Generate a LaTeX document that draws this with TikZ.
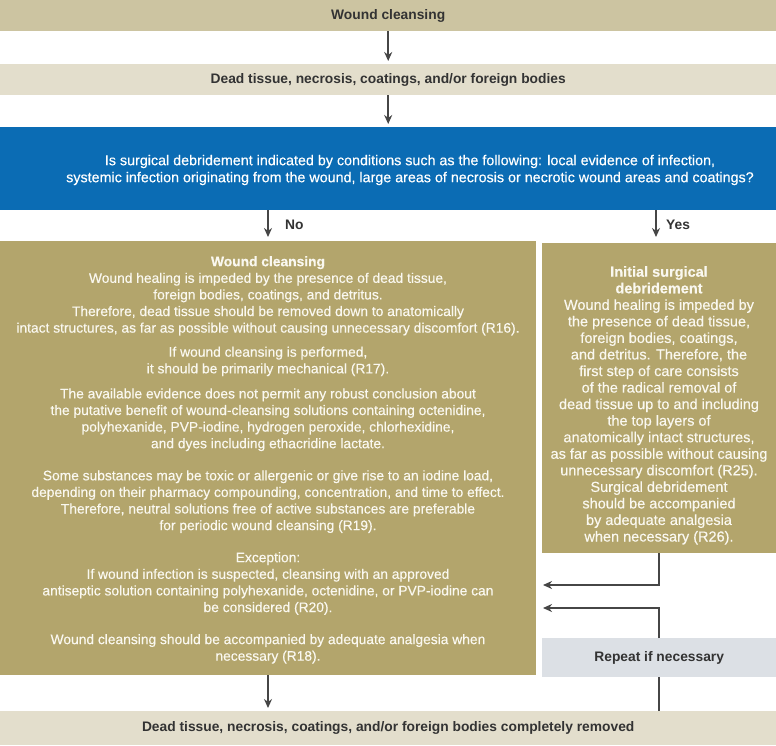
\documentclass[tikz,border=0pt]{standalone}
\usepackage{fontspec}
\setmainfont{Liberation Sans}
\newfontfamily\bodyfont{Liberation Sans}[FakeBold=0.35]
\usetikzlibrary{arrows.meta}
\definecolor{tanD}{HTML}{CCC4A1}
\definecolor{tanL}{HTML}{E3DECC}
\definecolor{blueQ}{HTML}{0B6CB4}
\definecolor{oliveB}{HTML}{B3A56C}
\definecolor{grayR}{HTML}{DCE0E5}
\definecolor{arrowc}{HTML}{464646}
\definecolor{darktxt}{HTML}{333333}
\definecolor{lighttxt}{HTML}{FAF8F0}
\begin{document}
\begin{tikzpicture}[x=1pt,y=-1pt,
  panel/.style={rectangle, inner sep=0pt, anchor=north west, align=center},
  bartext/.style={font=\fontsize{13.8}{16.6}\selectfont\bfseries, text=darktxt},
  bodytext/.style={font=\bodyfont\fontsize{13.8}{16.6}\selectfont, text=lighttxt},
  arr/.style={draw=arrowc, line width=2pt, -{Stealth[length=9pt,width=8pt]}},
  plain/.style={draw=arrowc, line width=2pt},
  lbl/.style={font=\fontsize{13.8}{16}\selectfont\bfseries, text=darktxt, anchor=west, inner sep=0pt}]
\useasboundingbox (0,0) rectangle (776,745);
\fill[white] (0,0) rectangle (776,745);

\node[panel, bartext, fill=tanD, minimum width=776pt, minimum height=31pt] (t1) at (0,0) {Wound cleansing};
\node[panel, bartext, fill=tanL, minimum width=776pt, minimum height=31pt] (t2) at (0,64) {Dead tissue, necrosis, coatings, and/or foreign bodies};
\node[panel, fill=blueQ, minimum width=776pt, minimum height=83pt] (q) at (0,127) {};
\node[bodytext, font=\bodyfont\fontsize{14.3}{17}\selectfont, text=white, align=center, inner sep=0pt] (qt) at (410,170) {Is surgical debridement indicated by conditions such as the following: local evidence of infection,\\
systemic infection originating from the wound, large areas of necrosis or necrotic wound areas and coatings?};

\node[panel, fill=oliveB, minimum width=536pt, minimum height=434pt] (L) at (0,241) {};
\node[bodytext, align=center, inner sep=0pt, anchor=north] (Lt) at (268,256) {\textbf{Wound cleansing}\\
Wound healing is impeded by the presence of dead tissue,\\
foreign bodies, coatings, and detritus.\\
Therefore, dead tissue should be removed down to anatomically\\
intact structures, as far as possible without causing unnecessary discomfort (R16).\\[7.5pt]
If wound cleansing is performed,\\
it should be primarily mechanical (R17).\\[8.5pt]
The available evidence does not permit any robust conclusion about\\
the putative benefit of wound-cleansing solutions containing octenidine,\\
polyhexanide, PVP-iodine, hydrogen peroxide, chlorhexidine,\\
and dyes including ethacridine lactate.\\[15.5pt]
Some substances may be toxic or allergenic or give rise to an iodine load,\\
depending on their pharmacy compounding, concentration, and time to effect.\\
Therefore, neutral solutions free of active substances are preferable\\
for periodic wound cleansing (R19).\\[15.5pt]
Exception:\\
If wound infection is suspected, cleansing with an approved\\
antiseptic solution containing polyhexanide, octenidine, or PVP-iodine can\\
be considered (R20).\\[15.5pt]
Wound cleansing should be accompanied by adequate analgesia when\\
necessary (R18).};

\node[panel, fill=oliveB, minimum width=234pt, minimum height=310pt] (R) at (542,243) {};
\node[bodytext, font=\bodyfont\fontsize{14.5}{16.55}\selectfont, align=center, inner sep=0pt, anchor=north] (Rt) at (659,266) {\textbf{Initial surgical}\\
\textbf{debridement}\\
Wound healing is impeded by\\
the presence of dead tissue,\\
foreign bodies, coatings,\\
and detritus. Therefore, the\\
first step of care consists\\
of the radical removal of\\
dead tissue up to and including\\
the top layers of\\
anatomically intact structures,\\
as far as possible without causing\\
unnecessary discomfort (R25).\\
Surgical debridement\\
should be accompanied\\
by adequate analgesia\\
when necessary (R26).};

\node[panel, bartext, fill=grayR, minimum width=234pt, minimum height=39pt] (rep) at (542,638) {Repeat if necessary};
\node[panel, bartext, fill=tanL, minimum width=776pt, minimum height=34pt] (b) at (0,711) {Dead tissue, necrosis, coatings, and/or foreign bodies completely removed};

\coordinate (noS) at (268,210);
\coordinate (yesS) at (656,210);
\coordinate (c1) at (543,585);
\coordinate (c2) at (543,608);

\draw[arr, shorten >=3pt] (t1.south) -- (t2.north);
\draw[arr, shorten >=3pt] (t2.south) -- (q.north);
\draw[arr, shorten >=4pt] (noS) -- (noS |- L.north);
\draw[arr, shorten >=6pt] (yesS) -- (yesS |- R.north);
\node[lbl] (no) at (285,225) {No};
\node[lbl] (yes) at (666,225) {Yes};
\draw[arr] (R.south) |- (c1);
\draw[arr] (rep.north) |- (c2);
\draw[plain] (rep.south) -- (rep.south |- b.north);
\draw[arr, shorten >=3pt] (L.south -| noS) -- (noS |- b.north);
\end{tikzpicture}
\end{document}
